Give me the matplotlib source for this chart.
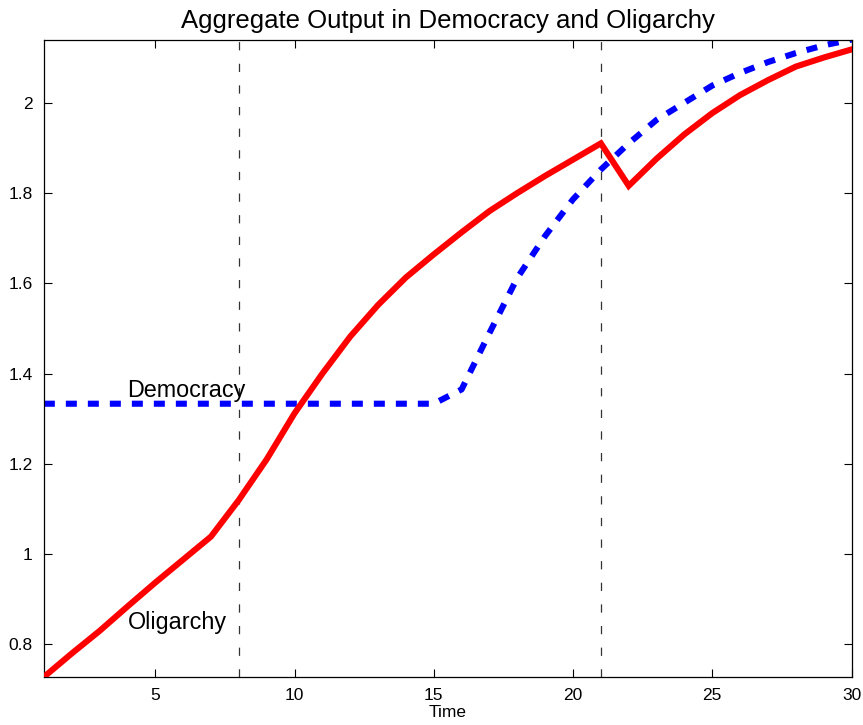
import numpy as np
import matplotlib; matplotlib.use('Agg')
from matplotlib import pyplot as plt

plt.rcParams['font.family'] = ['Liberation Sans', 'DejaVu Sans']

time = np.arange(1, 31)
oligarchy = [0.728, 0.78, 0.83, 0.884, 0.937, 0.988, 1.039, 1.12, 1.21, 1.312,
             1.40, 1.482, 1.552, 1.613, 1.664, 1.713, 1.76, 1.80, 1.838, 1.874,
             1.910, 1.816, 1.876, 1.930, 1.977, 2.017, 2.05, 2.08, 2.10, 2.118]
democracy = [1.3333] * 15 + [1.365, 1.49, 1.612, 1.705, 1.786, 1.852, 1.91,
                             1.962, 2.0, 2.038, 2.066, 2.09, 2.11, 2.127, 2.14]
breaks = [8, 21]

fig = plt.figure(figsize=(8.63, 7.25), dpi=100)
ax = fig.add_axes([0.0508, 0.0662, 0.9359, 0.8793])

# regime-change dates
for b in breaks:
    ax.axvline(b, color='0.2', ls=(0, (6.6, 10.7)), lw=0.9, zorder=1)

ax.plot(time, oligarchy, color='#ff0000', lw=4.4, solid_joinstyle='miter', zorder=3)
ax.plot(time, democracy, color='#0000ff', lw=4.4, ls=(0, (1.8, 1.8)),
        dash_capstyle='butt', zorder=2)

ax.text(4, 1.362, 'Democracy', fontsize=16.8, va='center', ha='left')
ax.text(4, 0.848, 'Oligarchy', fontsize=16.8, va='center', ha='left')

ax.set_xlim(1, 30)
ax.set_ylim(0.728, 2.14)
ax.set_xticks([5, 10, 15, 20, 25, 30])
ax.set_yticks([0.8, 1, 1.2, 1.4, 1.6, 1.8, 2])
ax.set_yticklabels(['0.8', '1', '1.2', '1.4', '1.6', '1.8', '2'])
ax.tick_params(direction='in', length=6, width=0.8, top=True, right=True,
               labelsize=12.5, pad=8)
for s in ax.spines.values():
    s.set_linewidth(0.9)

ax.set_xlabel('Time', fontsize=12.5, labelpad=1)
ax.set_title('Aggregate Output in Democracy and Oligarchy', fontsize=18.5, pad=8)

fig.savefig('out.png', dpi=100)
